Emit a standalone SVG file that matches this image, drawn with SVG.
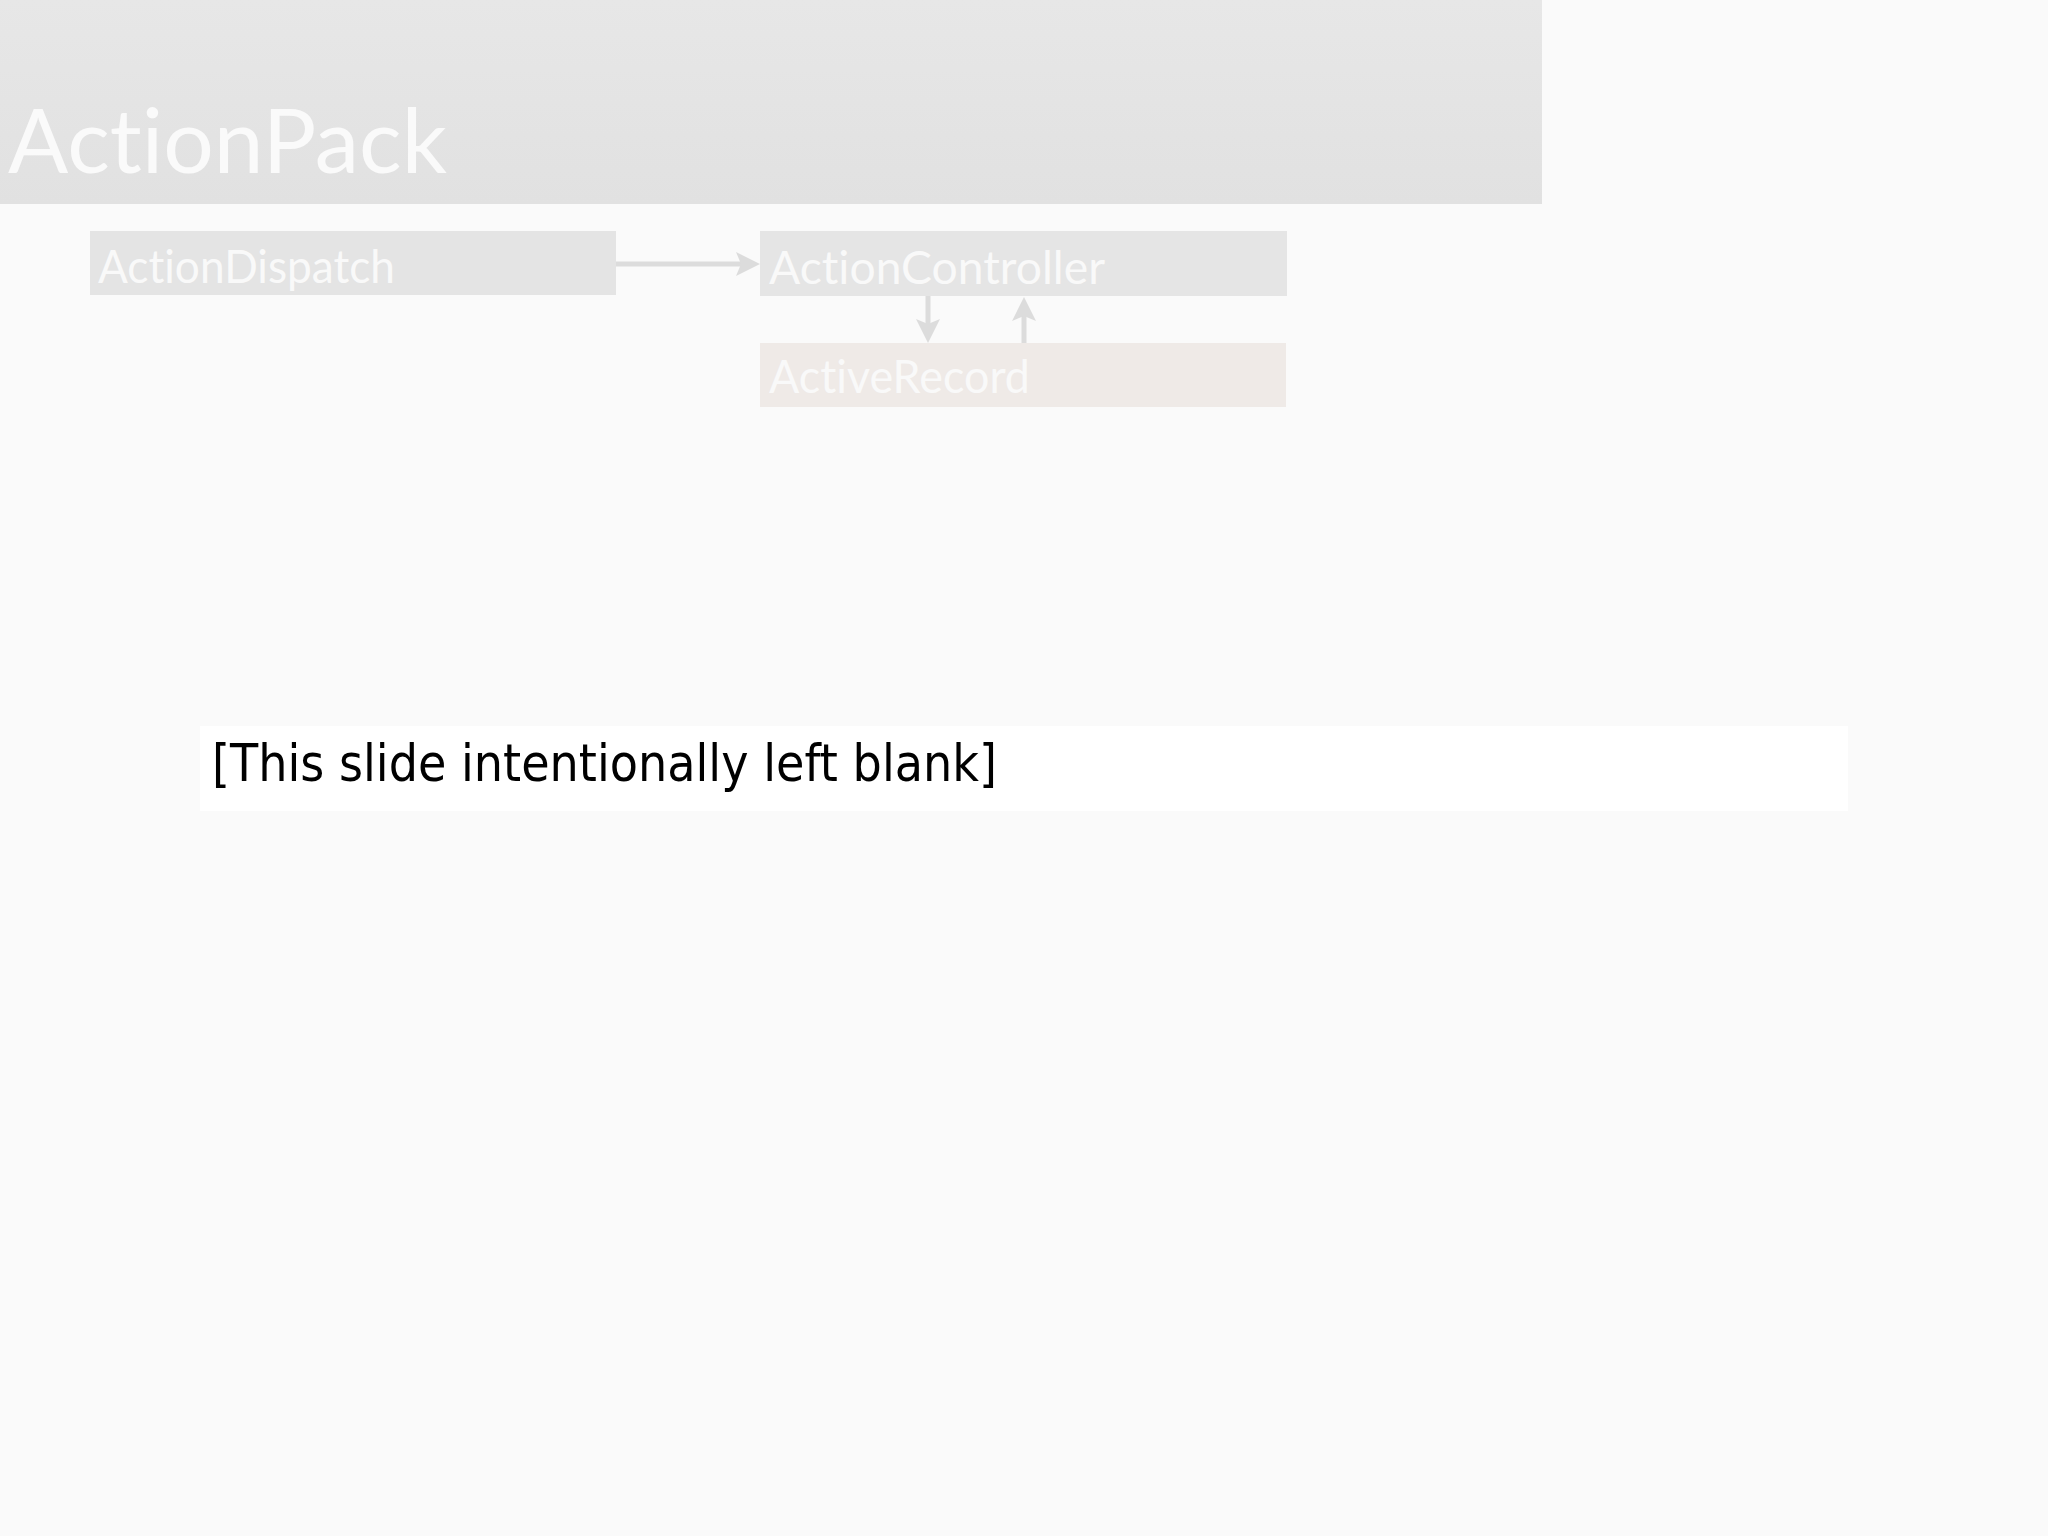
<svg xmlns="http://www.w3.org/2000/svg" width="2048" height="1536" viewBox="0 0 2048 1536">
  <defs>
    <linearGradient id="hdr" x1="0" y1="0" x2="0" y2="1">
      <stop offset="0" stop-color="#e7e7e7"/>
      <stop offset="1" stop-color="#e1e1e1"/>
    </linearGradient>
    <marker id="ah" markerUnits="userSpaceOnUse" markerWidth="24" markerHeight="24" refX="5" refY="12" orient="auto">
      <path d="M0,0 L24,12 L0,24 L5,12 Z" fill="#dcdcdc"/>
    </marker>
    <style>
      text { font-variant-ligatures: none; font-feature-settings: "liga" 0, "clig" 0, "dlig" 0; }
      .node-text { font-family: Lato, "Open Sans", "DejaVu Sans", sans-serif; font-size: 47px; fill: #f9f9f9; }
      .conn { stroke: #dcdcdc; stroke-width: 5; fill: none; marker-end: url(#ah); }
    </style>
  </defs>
  <rect x="0" y="0" width="2048" height="1536" fill="#fafafa"/>

  <g id="header">
    <rect x="0" y="0" width="1542" height="204" fill="url(#hdr)"/>
    <text x="8" y="173" font-family="Lato, 'Open Sans', 'DejaVu Sans', sans-serif" font-size="90" fill="#fafafa" textLength="439" lengthAdjust="spacingAndGlyphs">ActionPack</text>
  </g>

  <g id="node-actiondispatch">
    <rect x="90" y="231" width="526" height="64" fill="#e4e4e4"/>
    <text class="node-text" x="98" y="283" textLength="297" lengthAdjust="spacingAndGlyphs">ActionDispatch</text>
  </g>

  <g id="node-actioncontroller">
    <rect x="760" y="231" width="527" height="65" fill="#e5e5e5"/>
    <text class="node-text" x="769" y="284" textLength="336" lengthAdjust="spacingAndGlyphs">ActionController</text>
  </g>

  <g id="node-activerecord">
    <rect x="760" y="343" width="526" height="64" fill="#efeae7"/>
    <text class="node-text" x="769" y="393" textLength="261" lengthAdjust="spacingAndGlyphs">ActiveRecord</text>
  </g>

  <g id="connectors">
    <line class="conn" x1="616" y1="264" x2="741" y2="264"/>
    <line class="conn" x1="928" y1="296" x2="928" y2="324"/>
    <line class="conn" x1="1024" y1="343" x2="1024" y2="316"/>
  </g>

  <g id="blank-note">
    <rect x="200" y="726" width="1648" height="85" fill="#ffffff"/>
    <text x="212" y="781" font-family="'DejaVu Sans', Verdana, sans-serif" font-size="51" fill="#000000" textLength="785" lengthAdjust="spacingAndGlyphs">[This slide intentionally left blank]</text>
  </g>
</svg>
